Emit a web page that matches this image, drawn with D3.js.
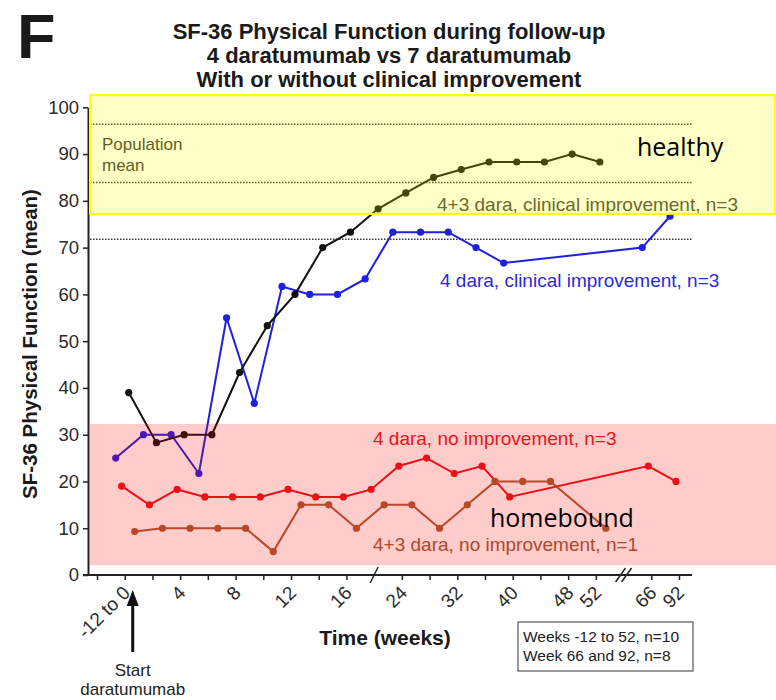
<!DOCTYPE html>
<html>
<head>
<meta charset="utf-8">
<script src="https://cdn.jsdelivr.net/npm/d3@7"></script>
<style>
body { margin: 0; background: #fff; }
svg { font-family: "Liberation Sans", Arial, sans-serif; }
</style>
</head>
<body>
<svg id="chart" width="776" height="700"></svg>
<script>
// x categories (weeks), "pre" and "gap" are empty slots on the axis
var weeks = ["pre", "-12 to 0", "2", "4", "6", "8", "10", "12", "14", "16", "20",
             "24", "28", "32", "36", "40", "44", "48", "52", "gap", "66", "92"];
var labelledWeeks = ["-12 to 0", "4", "8", "12", "16", "24", "32", "40", "48", "52", "66", "92"];
var breakWeeks = ["20", "gap"];
var yTicks = [0, 10, 20, 30, 40, 50, 60, 70, 80, 90, 100];

// 4+3 dara, clinical improvement
var blackWeeks = ["-12 to 0", "2", "4", "6", "8", "10", "12", "14", "16", "20", "24", "28", "32", "36", "40", "44", "48", "52"];
var blackValues = [39, 28.3, 30, 30, 43.3, 53.3, 60, 70, 73.3, 78.3, 81.7, 85, 86.7, 88.3, 88.3, 88.3, 90, 88.3];

// 4 dara, clinical improvement
var blueWeeks = ["-12 to 0", "2", "4", "6", "8", "10", "12", "14", "16", "20", "24", "28", "32", "36", "40", "66", "92"];
var blueValues = [25, 30, 30, 21.7, 55, 36.7, 61.7, 60, 60, 63.3, 73.3, 73.3, 73.3, 70, 66.7, 70, 76.7];

// 4 dara, no improvement
var redWeeks = ["-12 to 0", "2", "4", "6", "8", "10", "12", "14", "16", "20", "24", "28", "32", "36", "40", "66", "92"];
var redValues = [19, 15, 18.3, 16.7, 16.7, 16.7, 18.3, 16.7, 16.7, 18.3, 23.3, 25, 21.7, 23.3, 16.7, 23.3, 20];

// 4+3 dara, no improvement
var brownWeeks = ["-12 to 0", "2", "4", "6", "8", "10", "12", "14", "16", "20", "24", "28", "32", "36", "40", "44", "52"];
var brownValues = [9.3, 10, 10, 10, 10, 5, 15, 15, 10, 15, 15, 10, 15, 20, 20, 20, 10];

var populationMean = [96.4, 83.9, 71.8];

var svg = d3.select("#chart");

var x = d3.scalePoint()
    .domain(weeks)
    .range([97, 679]);

var y = d3.scaleLinear()
    .domain([0, 100])
    .range([575, 107.3]);

svg.append("rect").attr("width", 776).attr("height", 700).attr("fill", "#fff");

// panel letter + title
svg.append("text")
    .attr("x", 17).attr("y", 58)
    .style("font-size", "63px").style("font-weight", "bold")
    .attr("fill", "#1a1a1a")
    .text("F");

var title = ["SF-36 Physical Function during follow-up",
             "4 daratumumab vs 7 daratumumab",
             "With or without clinical improvement"];
svg.append("g").selectAll("text")
    .data(title)
    .enter().append("text")
    .attr("x", 389)
    .attr("y", function (d, i) { return 39 + i * 24; })
    .style("text-anchor", "middle")
    .style("font-size", "22px").style("font-weight", "bold")
    .attr("fill", "#1a1a1a")
    .text(function (d) { return d; });

// population mean dotted lines
svg.append("g").selectAll("line")
    .data(populationMean)
    .enter().append("line")
    .attr("x1", 90).attr("x2", 692)
    .attr("y1", function (d) { return y(d); })
    .attr("y2", function (d) { return y(d); })
    .attr("stroke", "#333")
    .attr("stroke-width", 1.5)
    .attr("stroke-dasharray", "1.5,1.5");

svg.append("text").attr("x", 102).attr("y", 150)
    .style("font-size", "17px").attr("fill", "#333").text("Population");
svg.append("text").attr("x", 102).attr("y", 171)
    .style("font-size", "17px").attr("fill", "#333").text("mean");

// axes
var yAxis = d3.axisLeft(y)
    .tickValues(yTicks)
    .tickSize(5)
    .tickSizeOuter(0);

var gy = svg.append("g")
    .attr("transform", "translate(88,0)")
    .call(yAxis);
gy.select(".domain").attr("stroke", "#222").attr("stroke-width", 2);
gy.selectAll(".tick line").attr("stroke", "#222").attr("stroke-width", 1.5);
gy.selectAll(".tick text")
    .attr("x", -9)
    .style("font-size", "18.5px")
    .style("font-family", "Liberation Sans, Arial, sans-serif")
    .attr("fill", "#2a2a2a");

var xAxis = d3.axisBottom(x)
    .tickValues(weeks.filter(function (w) { return breakWeeks.indexOf(w) < 0; }))
    .tickFormat(function (w) { return labelledWeeks.indexOf(w) >= 0 ? w : ""; })
    .tickSize(5)
    .tickSizeOuter(0);

var gx = svg.append("g")
    .attr("transform", "translate(0," + y(0) + ")")
    .call(xAxis);
gx.select(".domain").remove();
gx.selectAll(".tick line").attr("stroke", "#222").attr("stroke-width", 1.5);
gx.selectAll(".tick text")
    .attr("x", 0).attr("y", 0).attr("dy", 0)
    .attr("transform", "translate(6,19) rotate(-45)")
    .style("text-anchor", "end")
    .style("font-size", "19px")
    .style("font-family", "Liberation Sans, Arial, sans-serif")
    .attr("fill", "#2a2a2a");

svg.append("line")
    .attr("x1", 83).attr("x2", 692)
    .attr("y1", y(0)).attr("y2", y(0))
    .attr("stroke", "#222").attr("stroke-width", 2);

// axis breaks
svg.append("line")
    .attr("x1", x("20") - 4).attr("y1", y(0) + 8)
    .attr("x2", x("20") + 4).attr("y2", y(0) - 8)
    .attr("stroke", "#222").attr("stroke-width", 1.5);
[-3, 3].forEach(function (o) {
    svg.append("line")
        .attr("x1", x("gap") + o - 5).attr("y1", y(0) + 7)
        .attr("x2", x("gap") + o + 5).attr("y2", y(0) - 7)
        .attr("stroke", "#222").attr("stroke-width", 1.5);
});

svg.append("text")
    .attr("transform", "translate(37,344) rotate(-90)")
    .style("text-anchor", "middle")
    .style("font-size", "20.5px").style("font-weight", "bold")
    .attr("fill", "#1a1a1a")
    .text("SF-36 Physical Function (mean)");

svg.append("text")
    .attr("x", 385).attr("y", 645)
    .style("text-anchor", "middle")
    .style("font-size", "21px").style("font-weight", "bold")
    .attr("fill", "#1a1a1a")
    .text("Time (weeks)");

// start arrow
svg.append("line")
    .attr("x1", x("-12 to 0") + 8).attr("x2", x("-12 to 0") + 8)
    .attr("y1", 652).attr("y2", 604)
    .attr("stroke", "#111").attr("stroke-width", 3);
svg.append("path")
    .attr("d", "M" + (x("-12 to 0") + 8) + ",590 l-6,16 l12,0 z")
    .attr("fill", "#111");
svg.append("text").attr("x", x("-12 to 0") + 8).attr("y", 676)
    .style("text-anchor", "middle").style("font-size", "17px").attr("fill", "#222")
    .text("Start");
svg.append("text").attr("x", x("-12 to 0") + 8).attr("y", 695)
    .style("text-anchor", "middle").style("font-size", "17px").attr("fill", "#222")
    .text("daratumumab");

// n box
svg.append("rect")
    .attr("x", 518).attr("y", 622).attr("width", 175).attr("height", 49)
    .attr("fill", "#fff").attr("stroke", "#555").attr("stroke-width", 1.2);
svg.append("text").attr("x", 523).attr("y", 642)
    .style("font-size", "15.5px").attr("fill", "#222")
    .text("Weeks -12 to 52, n=10");
svg.append("text").attr("x", 523).attr("y", 661)
    .style("font-size", "15.5px").attr("fill", "#222")
    .text("Week 66 and 92, n=8");

// series
var series = [
    { weeks: blueWeeks, values: blueValues, color: "#1f1fe0", dx: -9 },
    { weeks: redWeeks, values: redValues, color: "#e8161c", dx: -3 },
    { weeks: blackWeeks, values: blackValues, color: "#111", dx: 4 },
    { weeks: brownWeeks, values: brownValues, color: "#a85a30", dx: 10 }
];

series.forEach(function (s) {
    var pts = s.weeks.map(function (w, i) { return { week: w, value: s.values[i] }; });
    var line = d3.line()
        .x(function (d) { return x(d.week) + s.dx; })
        .y(function (d) { return y(d.value); });
    svg.append("path")
        .attr("d", line(pts))
        .attr("fill", "none")
        .attr("stroke", s.color)
        .attr("stroke-width", 2);
    svg.append("g").selectAll("circle")
        .data(pts)
        .enter().append("circle")
        .attr("cx", function (d) { return x(d.week) + s.dx; })
        .attr("cy", function (d) { return y(d.value); })
        .attr("r", 3.6)
        .attr("fill", s.color);
});

// series labels
var seriesLabels = [
    { text: "4+3 dara, clinical improvement, n=3", x: 437, y: 211, color: "#404040" },
    { text: "4 dara, clinical improvement, n=3", x: 440, y: 287, color: "#2b2bd8" },
    { text: "4 dara, no improvement, n=3", x: 373, y: 445, color: "#e02020" },
    { text: "4+3 dara, no improvement, n=1", x: 373, y: 551, color: "#9a5a36" }
];
svg.append("g").selectAll("text")
    .data(seriesLabels)
    .enter().append("text")
    .attr("x", function (d) { return d.x; })
    .attr("y", function (d) { return d.y; })
    .style("font-size", "19px")
    .attr("fill", function (d) { return d.color; })
    .text(function (d) { return d.text; });

// highlight bands (on top, translucent)
svg.append("rect")
    .attr("x", 90).attr("y", y(102.6))
    .attr("width", 685).attr("height", y(77.2) - y(102.6))
    .attr("fill", "#ffff00").attr("fill-opacity", 0.22)
    .attr("stroke", "#ffff00").attr("stroke-width", 2);
svg.append("rect")
    .attr("x", 90).attr("y", y(32.3))
    .attr("width", 686).attr("height", y(2.1) - y(32.3))
    .attr("fill", "#ff0000").attr("fill-opacity", 0.2);

svg.append("text").attr("x", 637).attr("y", 156)
    .style("font-family", "Open Sans, sans-serif").style("font-size", "25px")
    .attr("fill", "#000").text("healthy");
svg.append("text").attr("x", 490).attr("y", 527)
    .style("font-family", "Open Sans, sans-serif").style("font-size", "25px")
    .attr("fill", "#000").text("homebound");
</script>
</body>
</html>
